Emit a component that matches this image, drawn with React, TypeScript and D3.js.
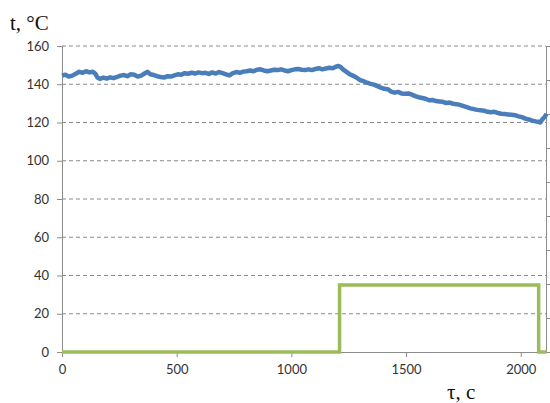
import { useEffect, useRef } from 'react';
import * as d3 from 'd3';

// temperature curve (time in s, value in °C)
const tempTime = [0, 15, 30, 45, 60, 75, 90, 105, 120, 135, 145, 155, 165, 180, 195, 210, 225, 240, 255, 270, 285, 300, 315, 330, 345, 360, 372, 385, 400, 415, 430, 445, 460, 475, 490, 505, 520, 535, 550, 565, 580, 595, 610, 625, 640, 655, 670, 685, 700, 715, 730, 745, 760, 775, 790, 805, 820, 835, 850, 865, 880, 895, 910, 925, 940, 955, 970, 985, 1000, 1015, 1030, 1045, 1060, 1075, 1090, 1105, 1120, 1135, 1150, 1165, 1180, 1195, 1205, 1215, 1225, 1240, 1255, 1270, 1285, 1300, 1315, 1330, 1345, 1360, 1375, 1390, 1405, 1420, 1435, 1450, 1465, 1480, 1495, 1510, 1525, 1540, 1555, 1570, 1585, 1600, 1615, 1630, 1645, 1660, 1675, 1690, 1705, 1720, 1735, 1750, 1765, 1780, 1795, 1810, 1825, 1840, 1855, 1870, 1885, 1900, 1915, 1930, 1945, 1960, 1975, 1990, 2005, 2020, 2035, 2050, 2065, 2075, 2085, 2095, 2105, 2112];
const tempValue = [144.5, 145, 144, 144.5, 145.5, 146.5, 146, 146.8, 146.2, 146.5, 145.5, 143.5, 142.8, 143.5, 143, 143.6, 143.2, 143.8, 144.5, 144.8, 144.2, 145.2, 145, 144, 144.5, 145.6, 146.5, 145.2, 144.8, 144.2, 143.8, 143.5, 144.2, 144, 144.6, 145.2, 145, 145.8, 145.5, 146, 145.6, 146.2, 145.8, 146, 145.4, 146.2, 145.6, 146.4, 145.8, 145.2, 144.6, 145.8, 146.4, 146, 146.6, 146.8, 147.2, 146.8, 147.6, 147.8, 147.2, 146.8, 147.2, 147.6, 147.4, 147.8, 147.2, 146.8, 147.4, 147.8, 148, 147.6, 147.4, 147.8, 147.4, 148, 148.4, 147.8, 148.2, 148.6, 148.4, 149.2, 149.6, 149, 147.8, 146.5, 145.2, 144.4, 143.4, 142.2, 141.6, 140.8, 140.2, 139.8, 139, 138.2, 137.6, 137.4, 136.2, 135.6, 136, 135.2, 135, 135.2, 134.6, 133.8, 133.2, 132.8, 132.4, 131.6, 131.8, 131.2, 131, 130.8, 130.2, 130.4, 129.8, 129.6, 129.2, 128.6, 128, 127.4, 127, 126.6, 126.4, 126.2, 125.6, 125.4, 125.6, 125, 124.6, 124.4, 124.2, 124, 123.8, 123.2, 122.8, 122, 121.6, 121, 120.6, 120.4, 120, 121.8, 123, 124.6];

// heating step
const stepTime = [0, 1210, 1210, 2078, 2078, 2112];
const stepValue = [0, 0, 35, 35, 0, 0];

const yTicks = [0, 20, 40, 60, 80, 100, 120, 140, 160];
const xTicks = [0, 500, 1000, 1500, 2000];

const W = 550;
const H = 403;
const margin = { left: 62, right: 4, top: 46, bottom: 51 };

function App() {
    const ref = useRef<SVGSVGElement>(null);

    useEffect(() => {
        const svg = d3.select(ref.current);
        svg.selectAll('*').remove();

        const x = d3.scaleLinear().domain([0, 2110]).range([margin.left, W - margin.right]);
        const y = d3.scaleLinear().domain([0, 160]).range([H - margin.bottom, margin.top]);
        const y2 = d3.scaleLinear().domain([0, 45]).range([H - margin.bottom, margin.top]);

        const tickFont = 'Lato, "Open Sans", sans-serif';
        const axisColor = '#8c8c8c';

        // grid
        svg.append('g')
            .selectAll('line')
            .data(yTicks.filter(d => d > 0))
            .enter()
            .append('line')
            .attr('x1', x(0))
            .attr('x2', x(2110))
            .attr('y1', d => y(d))
            .attr('y2', d => y(d))
            .attr('stroke', '#8a8a8a')
            .attr('stroke-width', 1)
            .attr('stroke-dasharray', '4,3');

        // left axis
        const left = svg.append('g')
            .attr('transform', `translate(${margin.left},0)`)
            .call(d3.axisLeft(y).tickValues(yTicks).tickSize(5).tickPadding(8));
        left.select('.domain').attr('stroke', axisColor);
        left.selectAll('line').attr('stroke', axisColor);
        left.selectAll('text').attr('font-family', tickFont).attr('font-size', 13).attr('fill', '#333');

        // right axis (no labels)
        const right = svg.append('g')
            .attr('transform', `translate(${W - margin.right},0)`)
            .call(d3.axisRight(y2).ticks(9).tickSize(4).tickFormat(() => ''));
        right.select('.domain').attr('stroke', axisColor);
        right.selectAll('line').attr('stroke', axisColor);

        // bottom axis
        const bottom = svg.append('g')
            .attr('transform', `translate(0,${H - margin.bottom})`)
            .call(d3.axisBottom(x).tickValues(xTicks).tickFormat(d3.format('d')).tickSize(5).tickSizeOuter(0).tickPadding(8));
        bottom.select('.domain').attr('stroke', axisColor);
        bottom.selectAll('line').attr('stroke', axisColor);
        bottom.selectAll('text').attr('font-family', tickFont).attr('font-size', 13).attr('fill', '#333');

        // step line
        const stepLine = d3.line<number>()
            .x(d => x(stepTime[d]))
            .y(d => y(stepValue[d]));
        svg.append('path')
            .attr('d', stepLine(d3.range(stepTime.length)))
            .attr('fill', 'none')
            .attr('stroke', '#9bbb59')
            .attr('stroke-width', 3.5);

        // temperature
        const tempLine = d3.line<number>()
            .x(d => x(tempTime[d]))
            .y(d => y(tempValue[d]));
        svg.append('path')
            .attr('d', tempLine(d3.range(tempTime.length)))
            .attr('fill', 'none')
            .attr('stroke', '#4a7ebb')
            .attr('stroke-width', 4.5)
            .attr('stroke-linejoin', 'round');

        // axis titles
        svg.append('text')
            .attr('x', 10)
            .attr('y', 30)
            .attr('font-family', '"Liberation Serif", "Times New Roman", serif')
            .attr('font-size', 21)
            .attr('fill', '#111')
            .text('t, °C');

        svg.append('text')
            .attr('x', 447)
            .attr('y', 399)
            .attr('font-family', '"Liberation Serif", "Times New Roman", serif')
            .attr('font-size', 21)
            .attr('fill', '#111')
            .text('τ, с');
    }, []);

    return (
        <svg ref={ref} width={W} height={H} style={{ position: 'absolute', left: 0, top: 0, background: '#fff' }} />
    );
}

export default App;
